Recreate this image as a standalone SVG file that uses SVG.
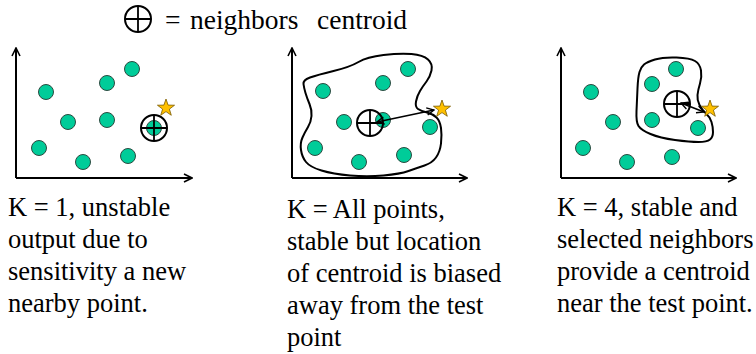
<svg xmlns="http://www.w3.org/2000/svg" width="756" height="354" viewBox="0 0 756 354">
<style>
.t{font-size:26.5px;fill:#000}
.tt{font-size:27.5px;fill:#000}
.ax{stroke:#000;stroke-width:2;fill:none;marker-end:url(#ah)}
.dot{fill:#00cc99;stroke:#2b4a40;stroke-width:1}
.blob{fill:none;stroke:#000;stroke-width:2;stroke-linejoin:round}
.arr{stroke:#000;stroke-width:1.6;fill:none;marker-start:url(#sh);marker-end:url(#sh)}
</style>
<defs>
<marker id="ah" viewBox="0 0 10 10" refX="9" refY="5" markerWidth="10" markerHeight="14" markerUnits="userSpaceOnUse" orient="auto">
<path d="M1,1 L9,5 L1,9" fill="none" stroke="#000" stroke-width="1.6"/>
</marker>
<marker id="sh" viewBox="0 0 10 10" refX="9" refY="5" markerWidth="9" markerHeight="10" markerUnits="userSpaceOnUse" orient="auto-start-reverse">
<path d="M1,1 L9,5 L1,9" fill="none" stroke="#000" stroke-width="1.5"/>
</marker>
<g id="cen">
<circle r="13" fill="none" stroke="#000" stroke-width="2"/>
<path d="M-13,0 H13 M0,-13 V13" stroke="#000" stroke-width="1.8"/>
</g>
<path id="star" d="M0,-9 L2.12,-2.91 L8.56,-2.78 L3.42,1.11 L5.29,7.28 L0,3.6 L-5.29,7.28 L-3.42,1.11 L-8.56,-2.78 L-2.12,-2.91 Z" fill="#ffc000" stroke="#7a5a00" stroke-width="0.8"/>
</defs>
<rect width="756" height="354" fill="#fff"/>

<g id="legend" font-family="Liberation Serif, DejaVu Serif, serif">
<use href="#cen" x="138" y="19"/>
<text class="tt" x="165" y="29">=</text>
<text class="tt" x="190" y="29">neighbors</text>
<text class="tt" x="317" y="29">centroid</text>
</g>

<g id="panel1" font-family="Liberation Serif, DejaVu Serif, serif">
<path class="ax" d="M16,178 V48"/>
<path class="ax" d="M16,178 H192"/>
<circle class="dot" cx="46" cy="92" r="7.5"/>
<circle class="dot" cx="107" cy="83" r="7.5"/>
<circle class="dot" cx="132" cy="69" r="7.5"/>
<circle class="dot" cx="68" cy="122" r="7.5"/>
<circle class="dot" cx="107" cy="120" r="7.5"/>
<circle class="dot" cx="39" cy="148" r="7.5"/>
<circle class="dot" cx="83" cy="162" r="7.5"/>
<circle class="dot" cx="128" cy="156" r="7.5"/>
<circle class="dot" cx="154" cy="128" r="7.5"/>
<use href="#cen" x="154" y="128"/>
<use href="#star" x="166" y="108"/>
<text class="t" x="8" y="216">K = 1, unstable</text>
<text class="t" x="8" y="248">output due to</text>
<text class="t" x="8" y="280">sensitivity a new</text>
<text class="t" x="8" y="312">nearby point.</text>
</g>

<g id="panel2" font-family="Liberation Serif, DejaVu Serif, serif">
<path class="ax" d="M292,178 V48"/>
<path class="ax" d="M292,178 H467"/>
<path class="blob" d="M310,77.5 Q317,75 333.5,71 Q350,67 358.5,62 Q367,57 383.5,55 Q400,53 411.5,54 Q423,55 428,59.5 Q433,64 431.5,70.5 Q430,77 426.5,81.5 Q423,86 420,91 Q417,96 416,101.5 Q415,107 418,109 Q421,111 427,112.5 Q433,114 436.5,117.5 Q440,121 441,128 Q442,135 441,143.5 Q440,152 436,157.5 Q432,163 424.5,165.5 Q417,168 408.5,171 Q400,174 383.5,175.5 Q367,177 350,175.5 Q333,174 321.5,170.5 Q310,167 306,162 Q302,157 301,150 Q300,143 302.5,137.5 Q305,132 308,127 Q311,122 311.5,116 Q312,110 309.5,104 Q307,98 305.5,93 Q304,88 303.5,84 Q303,80 310,77.5 Z"/>
<circle class="dot" cx="323" cy="91" r="7.5"/>
<circle class="dot" cx="383" cy="83" r="7.5"/>
<circle class="dot" cx="408" cy="69" r="7.5"/>
<circle class="dot" cx="344" cy="122" r="7.5"/>
<circle class="dot" cx="383" cy="120" r="7.5"/>
<circle class="dot" cx="430" cy="127" r="7.5"/>
<circle class="dot" cx="315" cy="148" r="7.5"/>
<circle class="dot" cx="359" cy="162" r="7.5"/>
<circle class="dot" cx="404" cy="155" r="7.5"/>
<use href="#cen" x="370" y="123"/>
<use href="#star" x="442" y="109"/>
<text class="t" x="287" y="218">K = All points,</text>
<text class="t" x="287" y="250">stable but location</text>
<text class="t" x="287" y="282">of centroid is biased</text>
<text class="t" x="287" y="314">away from the test</text>
<text class="t" x="287" y="346">point</text>
</g>

<g id="panel3" font-family="Liberation Serif, DejaVu Serif, serif">
<path class="ax" d="M561,178 V48"/>
<path class="ax" d="M561,178 H736"/>
<path class="blob" d="M655,59.5 Q663,57 676.5,57.5 Q690,58 695,61 Q700,64 701,70.5 Q702,77 700,83.5 Q698,90 697.5,95 Q697,100 699.5,105 Q702,110 706,113.5 Q710,117 711.5,122 Q713,127 713,132 Q713,137 710,139.5 Q707,142 698.5,142 Q690,142 675,140 Q660,138 650.5,134 Q641,130 638.5,126 Q636,122 636.5,111 Q637,100 637.5,88.5 Q638,77 639.5,72 Q641,67 644,64.5 Q647,62 655,59.5 Z"/>
<circle class="dot" cx="591" cy="92" r="7.5"/>
<circle class="dot" cx="652" cy="84" r="7.5"/>
<circle class="dot" cx="676" cy="69" r="7.5"/>
<circle class="dot" cx="613" cy="122" r="7.5"/>
<circle class="dot" cx="652" cy="120" r="7.5"/>
<circle class="dot" cx="698" cy="128" r="7.5"/>
<circle class="dot" cx="583" cy="148" r="7.5"/>
<circle class="dot" cx="627" cy="162" r="7.5"/>
<circle class="dot" cx="672" cy="157" r="7.5"/>
<use href="#cen" x="677" y="104"/>
<use href="#star" x="710" y="109"/>
<text class="t" x="557" y="216">K = 4, stable and</text>
<text class="t" x="557" y="248">selected neighbors</text>
<text class="t" x="557" y="280">provide a centroid</text>
<text class="t" x="557" y="312">near the test point.</text>
</g>

<g id="connectors">
<path class="arr" d="M377,122 L434,110"/>
<path class="arr" d="M681,103 L704,112"/>
</g>
</svg>
